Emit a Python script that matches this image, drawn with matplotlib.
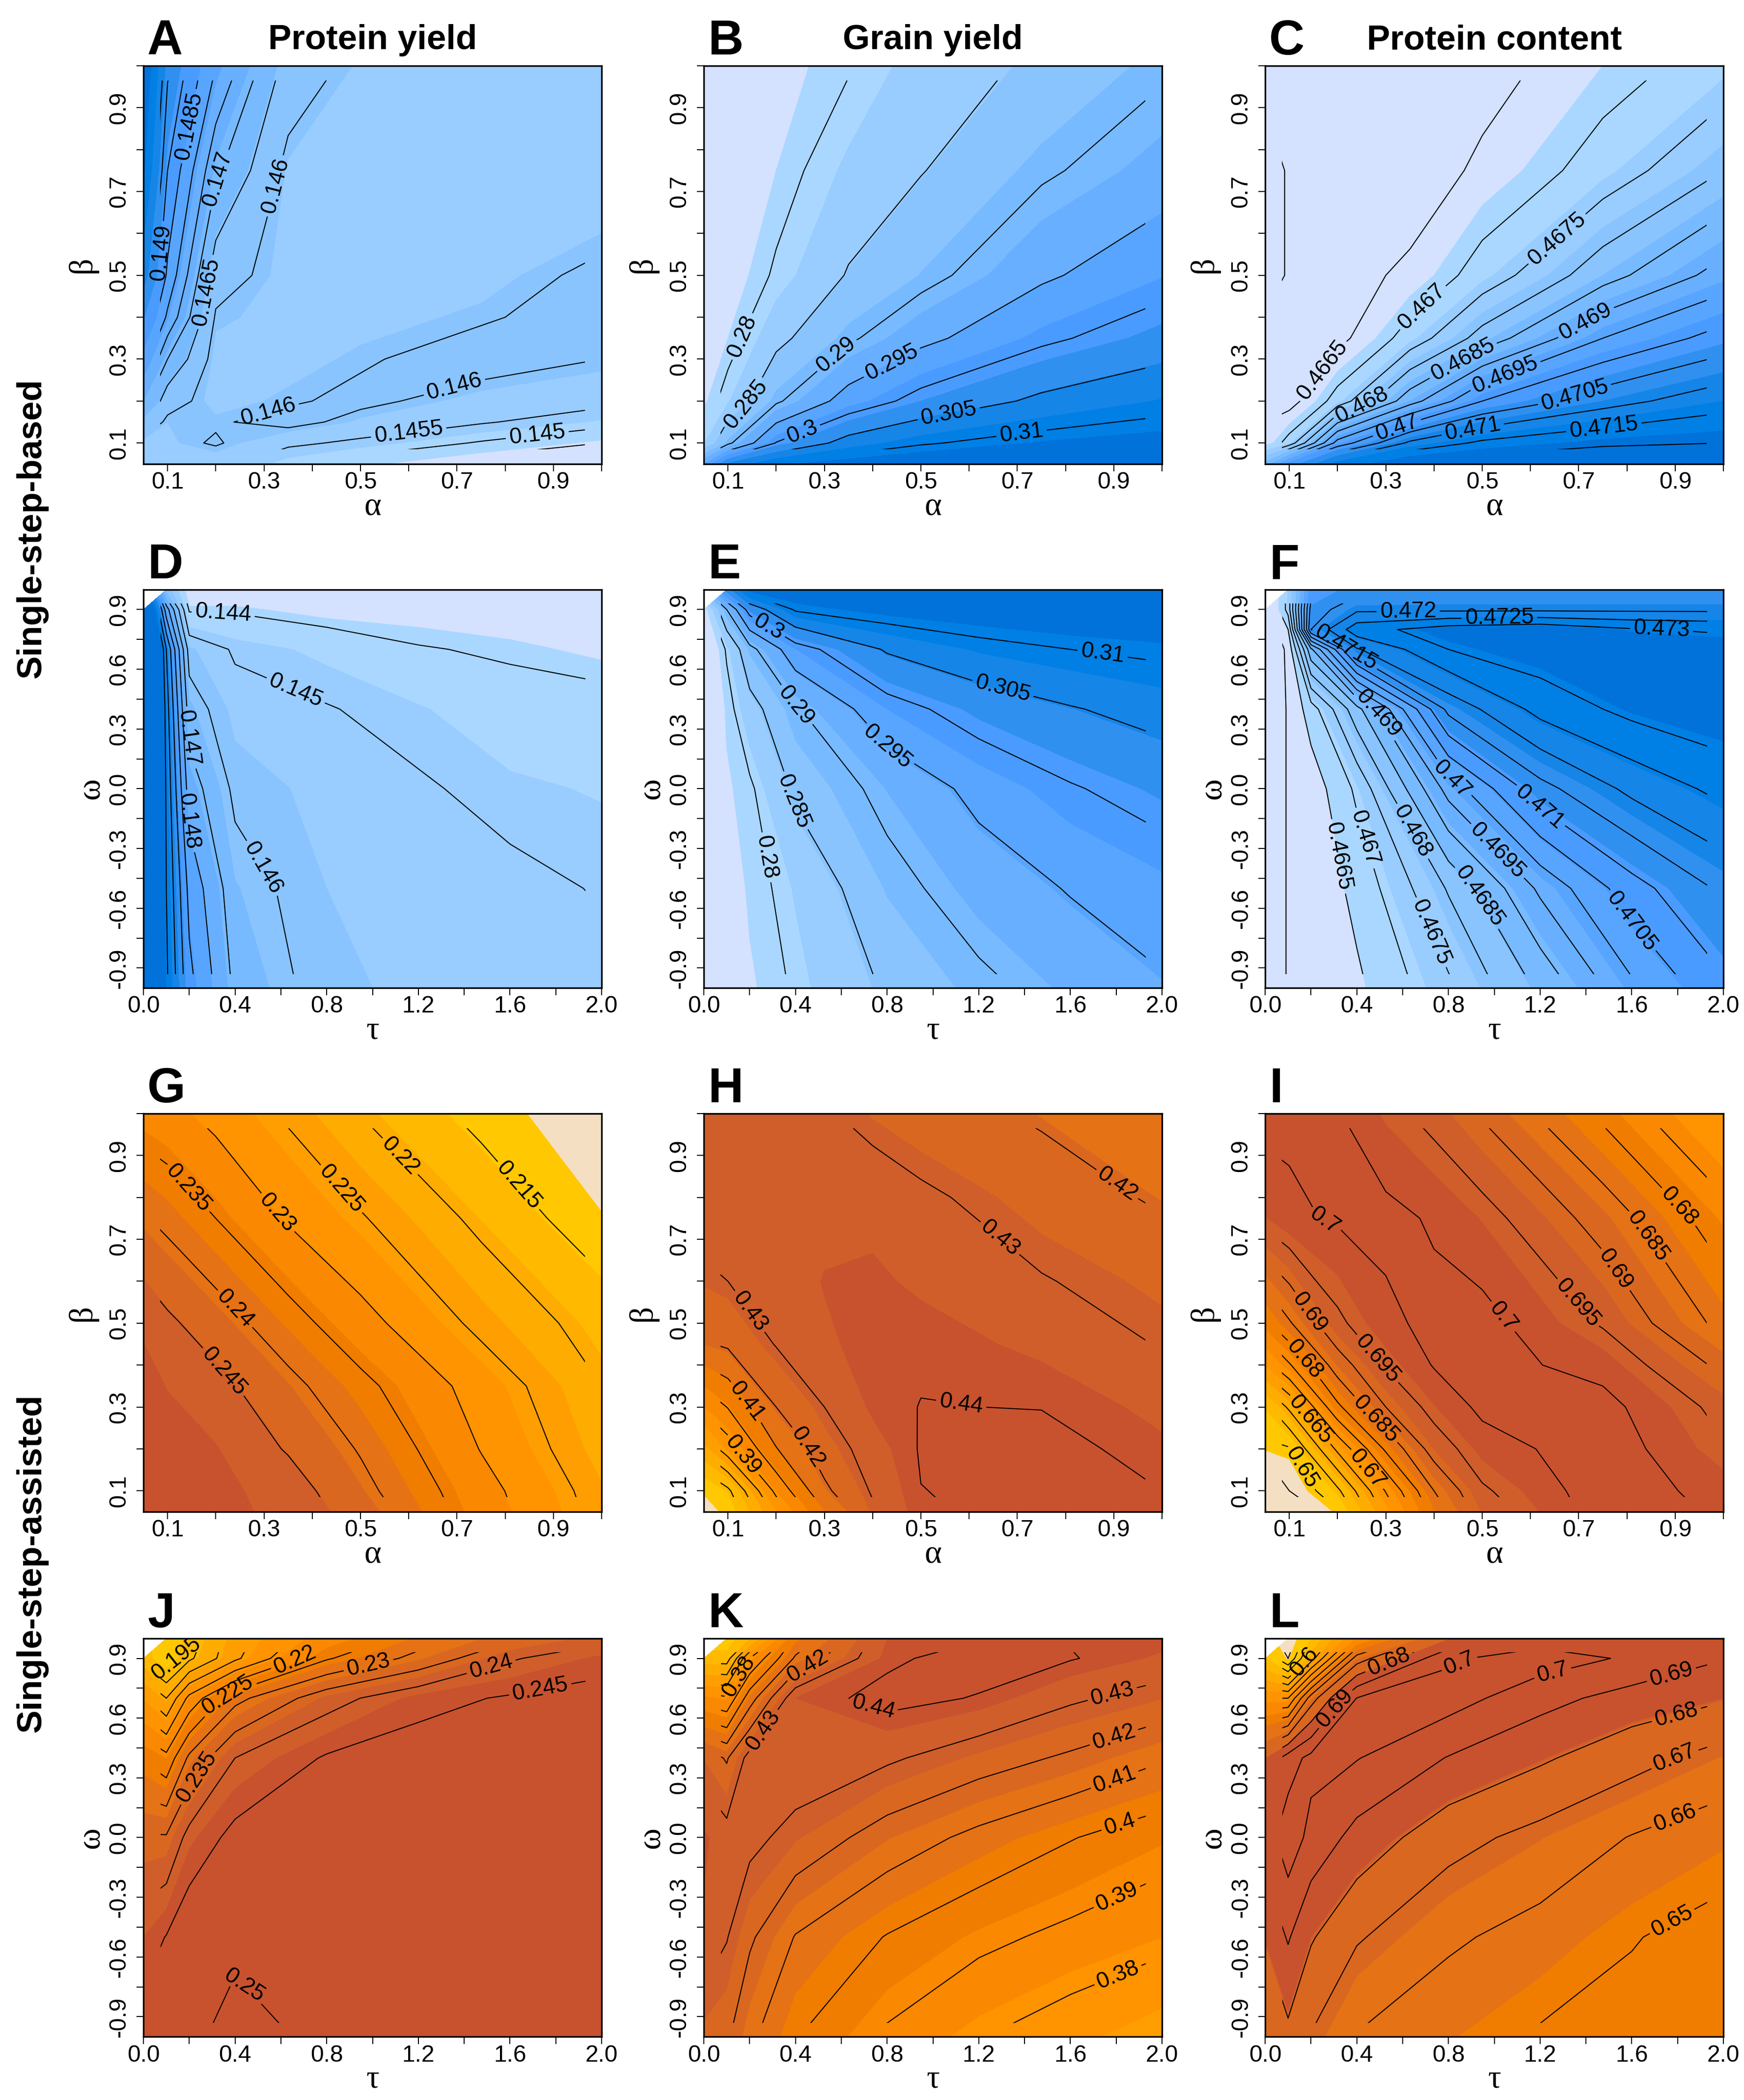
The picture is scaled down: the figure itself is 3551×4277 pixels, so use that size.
import numpy as np
import matplotlib
matplotlib.use("Agg")
import matplotlib.pyplot as plt
from matplotlib.patches import Rectangle

plt.rcParams['font.family'] = ['Liberation Sans', 'DejaVu Sans']

# grid positions the values were read at
alpha = [0.05, 0.1, 0.2, 0.35, 0.5, 0.75, 1.0]
beta = [0.05, 0.1, 0.2, 0.35, 0.5, 0.75, 1.0]
beta_a = [0.05, 0.1, 0.15, 0.2, 0.3, 0.4, 0.5, 0.75, 1.0]
alpha_hi = [0.05, 0.1, 0.2, 0.3, 0.4, 0.5, 0.75, 1.0]
beta_h = [0.05, 0.1, 0.2, 0.3, 0.45, 0.6, 0.8, 1.0]
beta_i = [0.05, 0.1, 0.2, 0.3, 0.4, 0.5, 0.75, 1.0]
tau = [0, 0.1, 0.2, 0.4, 0.8, 1.2, 1.6, 2.0]
omega = [-1, -0.5, 0, 0.4, 0.7, 0.9, 1.0]
omega_f = [-1, -0.5, 0, 0.4, 0.7, 0.8, 0.9, 1.0]
nan = np.nan

z_a = [[.1455, .1457, .1457, .1451, .1447, .1442, .1441],
       [.1458, .14585, .14605, .1456, .1454, .14495, .1445],
       [.1464, .1459, .14595, .14615, .14585, .14555, .1452],
       [.1472, .1462, .1458, .14595, .1461, .1458, .14565],
       [.1483, .147, .1458, .1458, .14595, .1462, .146],
       [.1492, .1479, .14595, .1458, .1458, .14595, .1462],
       [.1501, .1484, .1462, .1458, .1458, .1458, .1461],
       [.1512, .149, .1471, .14585, .1458, .1458, .1456],
       [.1518, .1496, .148, .1463, .14585, .1458, .1458]]
z_b = [[.295, .3055, .311, .313, .314, .3145, .315],
       [.2815, .289, .3002, .3068, .3096, .3117, .3127],
       [.278, .2815, .2893, .297, .3016, .3059, .3084],
       [.276, .2785, .2838, .2893, .2938, .2991, .3026],
       [.275, .277, .2805, .2853, .2885, .2943, .2981],
       [.274, .2755, .2785, .2824, .2848, .2893, .2929],
       [.2735, .275, .2775, .2797, .2831, .2857, .2893]]
z_c = [[.4685, .47, .4715, .4722, .4723, .4725, .4725],
       [.4666, .4672, .4697, .4711, .4716, .4719, .472],
       [.4664, .4663, .4672, .4688, .47, .4708, .4713],
       [.4663, .4662, .46635, .4672, .4682, .4695, .4702],
       [.46675, .46644, .4663, .4666, .4672, .4683, .4692],
       [.46675, .46644, .4663, .4662, .4666, .4672, .468],
       [.4663, .4663, .4663, .4662, .4663, .4668, .4672]]
z_d = [[.16, .1522, .1493, .1468, .1456, .1454, .1453, .1452],
       [.16, .152, .1487, .1464, .1455, .1453, .1452, .14495],
       [.16, .1518, .1475, .1458, .1453, .1451, .14475, .1446],
       [.16, .1515, .1465, .1453, .14505, .1447, .1443, .14425],
       [.159, .151, .1456, .1449, .1445, .14405, .1439, .1437],
       [.156, .1485, .1439, .1439, .1436, .1436, .1435, .1433],
       [nan, .146, .1433, .1433, .1432, .1432, .1432, .1432]]
z_e = [[.272, .2745, .2775, .2805, .2855, .2889, .292, .2945],
       [.272, .2758, .2785, .2816, .2883, .2925, .2953, .2973],
       [.272, .2775, .2793, .2858, .2915, .2963, .2996, .302],
       [.272, .2785, .2832, .2895, .2981, .3022, .3047, .3066],
       [.273, .2805, .2885, .298, .3055, .3085, .31, .3109],
       [.276, .29, .302, .3105, .3125, .3135, .3142, .3145],
       [nan, .303, .3125, .3135, .3145, .3148, .315, .3155]]
z_f = [[.4655, .46605, .4661, .4664, .4674, .4686, .4699, .4709],
       [.4655, .46605, .4661, .46665, .46805, .4696, .4708, .4716],
       [.4655, .46605, .4662, .4671, .4697, .47133, .47213, .47265],
       [.4655, .46605, .46675, .46832, .47165, .47267, .47315, .4734],
       [.4655, .4661, .4689, .47195, .473, .4733, .4734, .4734],
       [.4655, .4665, .4715, .4728, .47325, .4734, .47305, .4729],
       [.4655, .4672, .4712, .4719, .4719, .4719, .4719, .4719],
       [nan, .4672, .4708, .4713, .4714, .4714, .4714, .4714]]
z_g = [[.2497, .2497, .2495, .2478, .2429, .2323, .2235],
       [.2497, .2497, .2495, .2472, .2415, .2317, .223],
       [.2497, .2497, .2488, .2446, .2396, .2298, .2215],
       [.2495, .2485, .2465, .2414, .2363, .228, .22],
       [.2482, .2459, .2425, .237, .2317, .2238, .2179],
       [.2404, .2387, .235, .2295, .2254, .2189, .2118],
       [.2325, .2315, .2286, .2243, .2199, .2135, .2085]]
z_h = [[.342, .352, .383, .4095, .4285, .4395, .4415, .4415],
       [.35, .358, .3925, .418, .431, .4399, .4415, .44],
       [.372, .385, .4095, .425, .434, .4405, .4425, .4375],
       [.392, .4005, .42, .43, .4375, .4402, .4398, .435],
       [.419, .4215, .4305, .4355, .4385, .4388, .4352, .4295],
       [.4285, .43, .433, .4368, .4375, .4355, .4305, .4265],
       [.4345, .4345, .4345, .4345, .4345, .4315, .4255, .4185],
       [.434, .434, .434, .431, .4272, .4245, .4185, .413]]
z_i = [[.62, .638, .6495, .6665, .682, .6925, .702, .6995],
       [.63, .645, .654, .6703, .685, .6943, .7025, .6985],
       [.649, .6495, .666, .6808, .6922, .698, .7025, .6955],
       [.6535, .661, .679, .69, .6968, .701, .7015, .6935],
       [.668, .6745, .6875, .6955, .7003, .7015, .6985, .6888],
       [.679, .6845, .694, .699, .7012, .7015, .6945, .6835],
       [.6968, .6992, .7005, .7012, .6995, .6968, .688, .677],
       [.7015, .7008, .7003, .6965, .6935, .6895, .679, .668]]
z_j = [[.2475, .2495, .2495, .2508, .2495, .249, .2485, .248],
       [.2425, .2452, .2485, .2495, .2492, .2488, .2485, .248],
       [.2355, .2355, .2417, .2465, .2478, .248, .248, .248],
       [.2245, .2215, .231, .24, .2455, .2472, .2478, .248],
       [.211, .205, .2165, .2285, .238, .2435, .2455, .2468],
       [.198, .192, .199, .209, .2245, .2315, .2395, .2432],
       [nan, .192, .197, .208, .219, .2275, .234, .2385]]
z_k = [[.424, .4215, .412, .4005, .3885, .3805, .3745, .368],
       [.4355, .4305, .4215, .4095, .3995, .3925, .3875, .383],
       [.4375, .4335, .4328, .4265, .4155, .4075, .4005, .3945],
       [.4255, .419, .4335, .4365, .4315, .4245, .4185, .411],
       [.385, .3815, .4055, .4365, .4425, .4395, .4315, .426],
       [.345, .345, .38, .4115, .4385, .4435, .4405, .4355],
       [nan, .333, .35, .402, .4365, .4395, .4395, .4385]]
z_l = [[.668, .6775, .6695, .6595, .654, .649, .647, .646],
       [.6815, .691, .681, .671, .6615, .6565, .6505, .6465],
       [.695, .706, .697, .6865, .6735, .6668, .6595, .6545],
       [.68, .695, .703, .7005, .6895, .6815, .6735, .666],
       [.63, .63, .665, .7003, .7045, .6935, .686, .681],
       [.59, .57, .605, .665, .6985, .705, .6985, .6905],
       [nan, .56, .59, .635, .68, .695, .6975, .693]]

# band edges of the fills
fill_a = np.arange(11) * .00065 + .1446
fill_b = np.arange(11) * .0033 + .2785
fill_c = np.arange(11) * .0005 + .4668
fill_d = np.arange(11) * .00085 + .1438
fill_e = np.arange(11) * .00335 + .278
fill_f = np.arange(11) * .00066 + .4665
fill_g = np.arange(11) * .0037 + .2116
fill_h = np.arange(11) * .0088 + .3485
fill_i = np.arange(11) * .00486 + .6484
fill_j = np.arange(11) * .0052 + .1905
fill_k = np.arange(11) * .0107 + .3295
fill_l = [.572, .59, .601, .612, .623, .634, .645, .6535, .6665, .6805, .681]

# contour line levels
lines_a = np.arange(.1445, .15001, .0005)
lines_b = np.arange(.28, .31001, .005)
lines_c = np.arange(.4665, .47201, .0005)
lines_d = np.arange(.144, .15201, .001)
lines_e = np.arange(.28, .31001, .005)
lines_f = np.arange(.466, .47301, .0005)
lines_g = np.arange(.215, .25001, .005)
lines_h = np.arange(.36, .44001, .01)
lines_i = np.arange(.645, .70001, .005)
lines_j = np.arange(.195, .25001, .005)
lines_k = np.arange(.35, .44001, .01)
lines_l = np.arange(.56, .70001, .01)

# (level, x, y) of the labels written on the lines
labels_a = [(.1485, .152, .854), (.147, .202, .73), (.146, .308, .718), (.149, .101, .553),
            (.1465, .169, .462), (.146, .308, .177), (.146, .698, .219), (.1455, .6, .124),
            (.145, .867, .114)]
labels_b = [(.28, .144, .347), (.285, .14, .189), (.29, .329, .305), (.295, .442, .287),
            (.3, .253, .129), (.305, .558, .169), (.31, .709, .122)]
labels_c = [(.4665, .175, .268), (.467, .377, .422), (.4675, .655, .587), (.468, .25, .193),
            (.4685, .46, .298), (.469, .717, .384), (.4695, .549, .257), (.47, .322, .14),
            (.4705, .69, .219), (.471, .48, .133), (.4715, .751, .148)]
labels_d = [(.144, .348, .864), (.145, .66, .481), (.146, .446, -.451), (.147, .187, .254),
            (.148, .187, -.164)]
labels_e = [(.3, .277, .802), (.29, .4, .415), (.295, .81, .225), (.305, 1.308, .518),
            (.31, 1.74, .676), (.285, .428, -.051), (.28, .277, -.344)]
labels_f = [(.472, .624, .909), (.4725, 1.022, .871), (.473, 1.73, .793), (.4715, .357, .718),
            (.469, .458, .353), (.47, .819, .054), (.471, 1.202, -.087), (.4695, 1.007, -.32),
            (.468, .646, -.212), (.4675, .747, -.71), (.467, .444, -.245), (.4685, .928, -.544),
            (.4665, .299, -.344), (.4705, 1.607, -.66)]
labels_g = [(.235, .142, .821), (.23, .334, .769), (.225, .461, .821), (.22, .584, .9),
            (.215, .847, .848), (.24, .238, .532), (.245, .218, .386)]
labels_h = [(.42, .908, .833), (.43, .664, .703), (.43, .137, .521), (.41, .13, .304),
            (.39, .13, .184), (.42, .26, .199), (.44, .589, .349)]
labels_i = [(.68, .906, .776), (.685, .851, .713), (.69, .793, .641), (.695, .721, .57),
            (.7, .566, .536), (.7, .171, .739), (.69, .141, .525), (.695, .295, .427),
            (.68, .134, .416), (.685, .285, .277), (.665, .144, .27), (.67, .264, .154),
            (.65, .134, .161)]
labels_j = [(.195, .25, .852), (.22, .668, .869), (.23, .98, .877), (.24, 1.515, .869),
            (.245, 1.729, .762), (.225, .383, .68), (.235, .232, .303), (.25, .567, -.607)]
labels_k = [(.38, .183, .787), (.42, .457, .85), (.43, .255, .541), (.44, .731, .628),
            (.43, 1.784, .715), (.42, 1.784, .526), (.41, 1.784, .32), (.4, 1.813, .075),
            (.39, 1.784, -.249), (.38, 1.791, -.644)]
labels_l = [(.6, .191, .858), (.68, .545, .866), (.69, .292, .66), (.7, .848, .874),
            (.7, 1.253, .834), (.69, 1.773, .818), (.68, 1.788, .644), (.67, 1.78, .415),
            (.66, 1.788, .099), (.65, 1.788, -.447)]

blues = ['#D4E1FF', '#AAD7FF', '#99CCFF', '#89C4FF', '#78BAFF', '#69AFFF',
         '#58A5FF', '#4A9BFF', '#3090F0', '#1585E8', '#007FE5', '#0072DA']
oranges = ['#F5DFC3', '#FFC800', '#FFBA00', '#FFAC00', '#FF9E00', '#FF9300',
           '#FA8800', '#F07D00', '#E57214', '#DA6720', '#D05E2A', '#C8522E']

W, H = 3551, 4277
lefts = [292, 1433, 2576]
tops = [134, 1201, 2268, 3337]
ax_w, ax_h = 933, 811

panels = [
    ('A', alpha, beta_a, z_a, fill_a, lines_a, labels_a, 0, 0),
    ('B', alpha, beta, z_b, fill_b, lines_b, labels_b, 0, 1),
    ('C', alpha, beta, z_c, fill_c, lines_c, labels_c, 0, 2),
    ('D', tau, omega, z_d, fill_d, lines_d, labels_d, 1, 0),
    ('E', tau, omega, z_e, fill_e, lines_e, labels_e, 1, 1),
    ('F', tau, omega_f, z_f, fill_f, lines_f, labels_f, 1, 2),
    ('G', alpha, beta, z_g, fill_g, lines_g, labels_g, 2, 0),
    ('H', alpha_hi, beta_h, z_h, fill_h, lines_h, labels_h, 2, 1),
    ('I', alpha_hi, beta_i, z_i, fill_i, lines_i, labels_i, 2, 2),
    ('J', tau, omega, z_j, fill_j, lines_j, labels_j, 3, 0),
    ('K', tau, omega, z_k, fill_k, lines_k, labels_k, 3, 1),
    ('L', tau, omega, z_l, fill_l, lines_l, labels_l, 3, 2),
]

fig = plt.figure(figsize=((W + .1) / 300, (H + .1) / 300), dpi=300)


def put(px, py, s, **kw):
    fig.text(px / W, 1 - py / H, s, ha=kw.pop('ha', 'center'), va='center', **kw)


for name, xs, ys, z, fills, lines, labels, row, col in panels:
    left, top = lefts[col], tops[row]
    ax = fig.add_axes([left / W, 1 - (top + ax_h) / H, ax_w / W, ax_h / H])
    z = np.ma.masked_invalid(np.array(z, dtype=float))
    colors = blues if row < 2 else oranges
    ax.contourf(xs, ys, z, levels=fills, colors=colors, extend='both', antialiased=False)

    is_tau = xs is tau
    if is_tau:
        clip = Rectangle((.075, -.93), 1.855, 1.86, transform=ax.transData)
    else:
        clip = Rectangle((.085, .085), .88, .88, transform=ax.transData)

    # one contour set per level, so a label can be tied to its own level
    sets = {}
    for level in lines:
        if z.min() < level < z.max():
            cs = ax.contour(xs, ys, z, levels=[level], colors='black', linewidths=0.5)
            cs.set_clip_path(clip)
            sets[round(float(level), 4)] = cs

    for level, lx, ly in labels:
        if level in sets:
            sets[level].clabel(manual=[(lx, ly)], inline=True, inline_spacing=7,
                               fontsize=11, fmt=lambda v: f"{round(v, 4):g}")

    if is_tau:
        ax.set_xlim(0, 2)
        ax.set_ylim(-1, 1)
        xt = np.arange(0, 2.01, .2)
        ax.set_xticks(xt, [f"{v:.1f}" if i % 2 == 0 else '' for i, v in enumerate(xt)])
        yt = np.arange(-.9, .91, .15)
        ax.set_yticks(yt, [f"{v:.1f}".replace('-0.0', '0.0') if i % 2 == 0 else ''
                           for i, v in enumerate(yt)])
    else:
        ax.set_xlim(.05, 1)
        ax.set_ylim(.05, 1)
        xt = np.arange(.1, 1.01, .1)
        ax.set_xticks(xt, [f"{v:.1f}" if i % 2 == 0 else '' for i, v in enumerate(xt)])
        ax.set_yticks(xt, [f"{v:.1f}" if i % 2 == 0 else '' for i, v in enumerate(xt)])
    ax.tick_params(axis='x', length=3.7, width=0.5, labelsize=11.5, pad=0)
    ax.tick_params(axis='y', length=3.4, width=0.5, labelsize=11.5, pad=3)
    plt.setp(ax.get_yticklabels(), rotation=90, va='center')
    for sp in ax.spines.values():
        sp.set_linewidth(0.8)

    xname, yname = ('τ', 'ω') if is_tau else ('α', 'β')
    put(left + ax_w / 2, top + ax_h + 87, xname, fontsize=16, family='Liberation Serif')
    put(left - (108 if is_tau else 124), top + ax_h / 2, yname, fontsize=16,
        family='Liberation Serif', rotation=90)
    put(left + 8, top - 49, name, fontsize=24, fontweight='bold', ha='left')

for col, title in enumerate(['Protein yield', 'Grain yield', 'Protein content']):
    put(lefts[col] + ax_w / 2, tops[0] - 52, title, fontsize=17, fontweight='bold')

put(65, 1076, 'Single-step-based', fontsize=17, fontweight='bold', rotation=90)
put(65, 3183, 'Single-step-assisted', fontsize=17, fontweight='bold', rotation=90)

fig.savefig('out.png', dpi=300)
